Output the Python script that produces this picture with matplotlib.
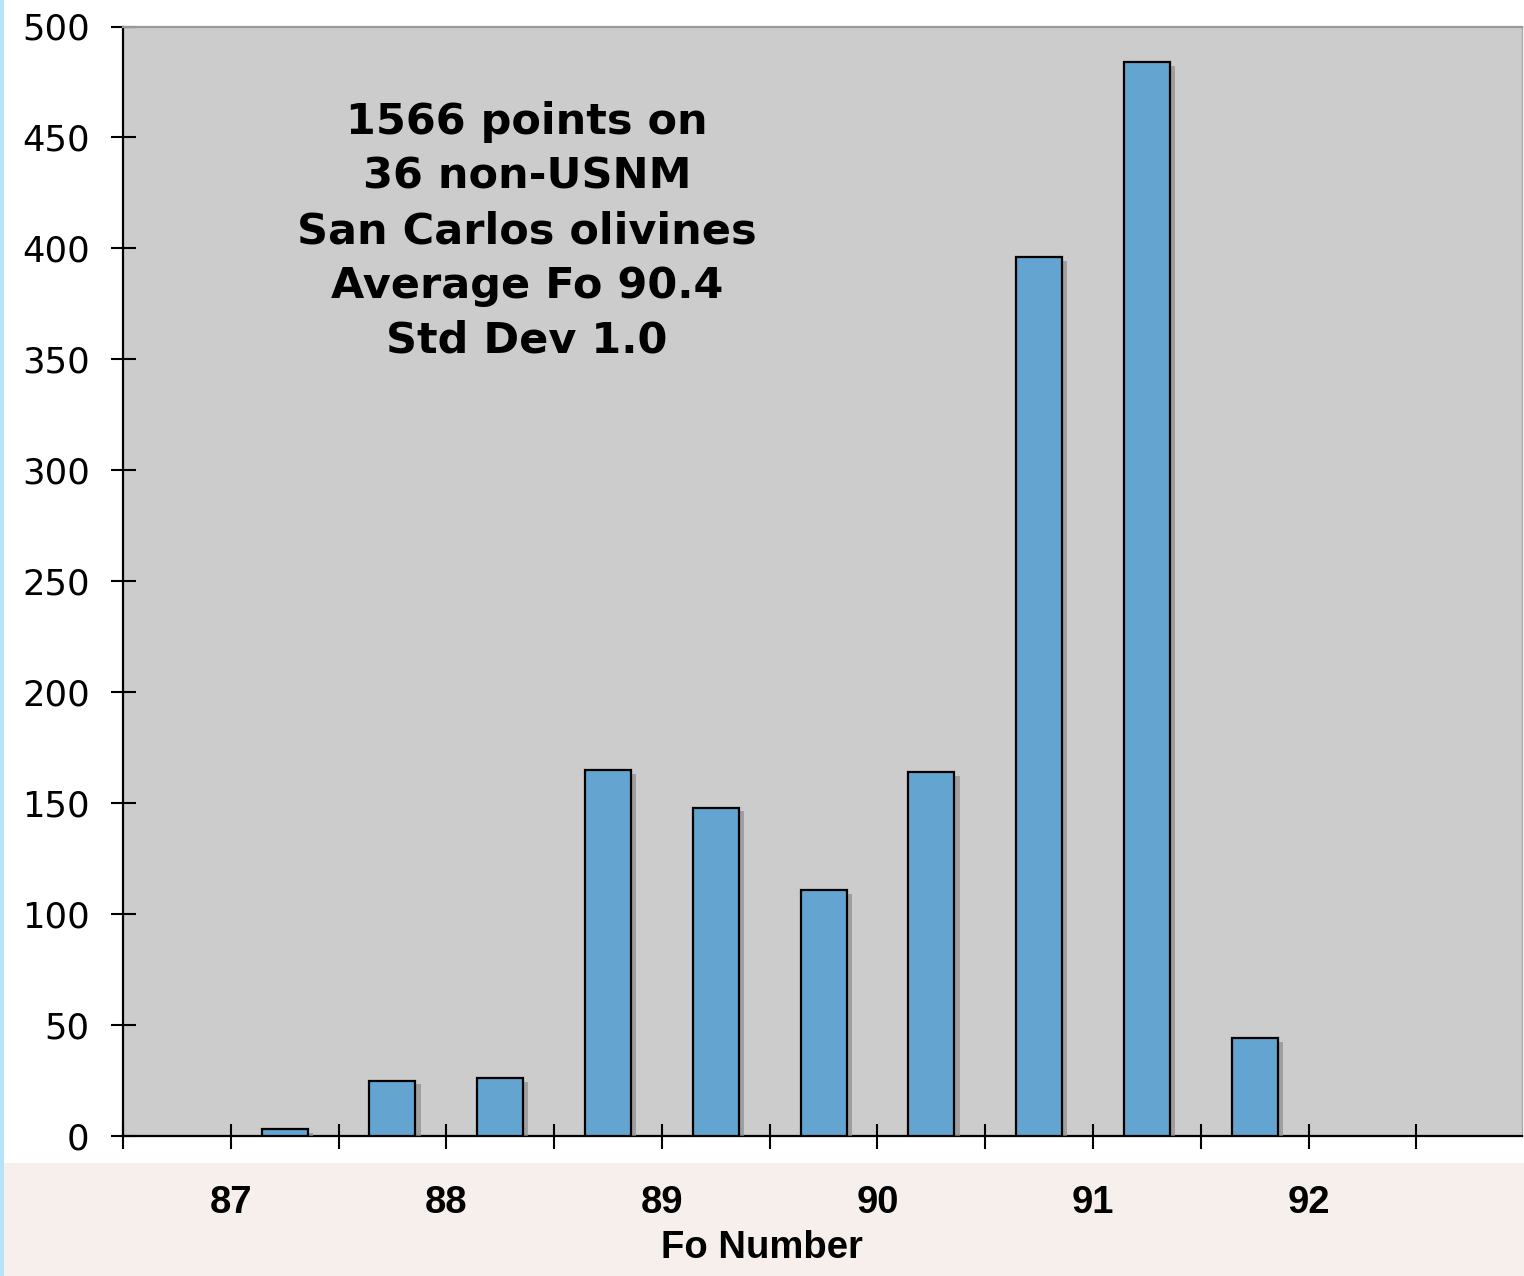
import matplotlib
matplotlib.use("Agg")
import matplotlib.pyplot as plt
import matplotlib.patheffects as pe
from matplotlib.patches import Rectangle

# Histogram of Fo numbers (bin centres, counts per 0.5 Fo bin)
bin_centers = [87.25, 87.75, 88.25, 88.75, 89.25, 89.75, 90.25, 90.75, 91.25, 91.75]
counts = [3, 25, 26, 165, 148, 111, 164, 396, 484, 44]
x_ticks_major = [87, 88, 89, 90, 91, 92]
y_ticks = [0, 50, 100, 150, 200, 250, 300, 350, 400, 450, 500]
summary_lines = ["1566 points on", "36 non-USNM", "San Carlos olivines",
                 "Average Fo 90.4", "Std Dev 1.0"]
x_label = "Fo Number"

W, H = 1524, 1276
fig = plt.figure(figsize=(W / 100, H / 100), dpi=100)
fig.patch.set_facecolor("white")

# page decorations: blue strip on the left and pale band under the axis
fig.patches.append(Rectangle((0, 0), 4 / W, 1, transform=fig.transFigure,
                             facecolor="#b8e2fa", edgecolor="none", zorder=-5))
fig.patches.append(Rectangle((4 / W, 0), 1, (H - 1163) / H, transform=fig.transFigure,
                             facecolor="#f6efec", edgecolor="none", zorder=-5))

left, right = 123 / W, 1522 / W
bottom, top = (H - 1136) / H, (H - 26.5) / H
ax = fig.add_axes([left, bottom, right - left, top - bottom])
ax.set_zorder(2)
ax.set_facecolor("#cccccc")

bars = ax.bar(bin_centers, counts, width=0.213, color="#63a5d0",
              edgecolor="black", linewidth=1.6, zorder=3)
for b in bars:
    b.set_path_effects([
        pe.SimplePatchShadow(offset=(3.8, -2.8), shadow_rgbFace=(0.55, 0.55, 0.55), alpha=0.7),
        pe.Normal(),
    ])

ax.set_xlim(86.5, 92.99)
ax.set_ylim(0, 500)

# ticks every half unit, labels on whole numbers only
half_ticks = [86.5 + 0.5 * i for i in range(13)]
ax.set_xticks(half_ticks)
ax.set_xticklabels([str(int(t)) if t in x_ticks_major else "" for t in half_ticks],
                   fontfamily="Liberation Sans", fontweight="bold", fontsize=27.5)
ax.set_yticks(y_ticks)
ax.set_yticklabels([str(v) for v in y_ticks], fontfamily="DejaVu Sans", fontsize=25.5)

ax.tick_params(axis="x", direction="inout", length=18, width=1.5, pad=26, colors="black")
ax.tick_params(axis="y", direction="inout", length=18, width=1.5, pad=15, colors="black")

for side in ["left", "bottom"]:
    ax.spines[side].set_color("black")
    ax.spines[side].set_linewidth(1.6)
ax.spines["top"].set_color("#999999")
ax.spines["top"].set_linewidth(1.6)
ax.spines["right"].set_color("#aaaaaa")
ax.spines["right"].set_linewidth(1.0)

fig.text(0.5, (H - 1248) / H, x_label, ha="center", va="center",
         fontfamily="Liberation Sans", fontweight="bold", fontsize=27.5)

fig.text(527 / W, (H - 231) / H, "\n".join(summary_lines), ha="center", va="center",
         multialignment="center", fontfamily="DejaVu Sans", fontweight="bold",
         fontsize=31, linespacing=1.38)

fig.savefig("out.png", dpi=100)
